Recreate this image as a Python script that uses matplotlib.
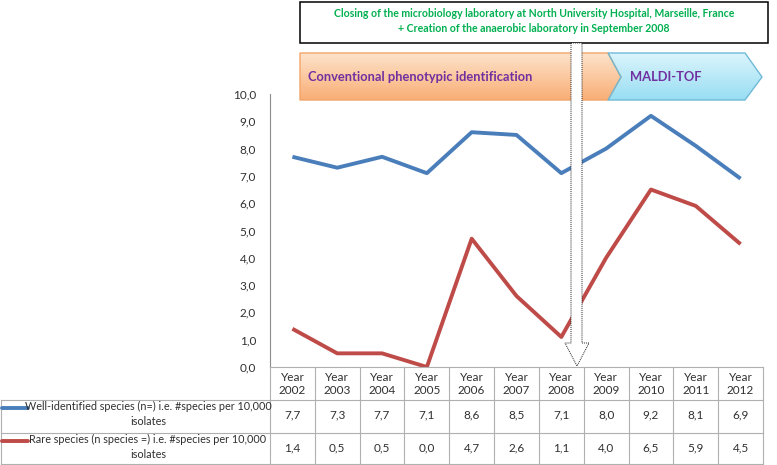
import numpy as np
import matplotlib
matplotlib.use("Agg")
import matplotlib.pyplot as plt
from matplotlib.patches import Polygon, Rectangle
from matplotlib.colors import LinearSegmentedColormap
from matplotlib.ticker import FuncFormatter
from matplotlib.transforms import blended_transform_factory

plt.rcParams['font.family'] = ['Lato', 'DejaVu Sans']

# Data
years = ["2002", "2003", "2004", "2005", "2006", "2007", "2008", "2009", "2010", "2011", "2012"]
well_identified = [7.7, 7.3, 7.7, 7.1, 8.6, 8.5, 7.1, 8.0, 9.2, 8.1, 6.9]
rare = [1.4, 0.5, 0.5, 0.0, 4.7, 2.6, 1.1, 4.0, 6.5, 5.9, 4.5]
series_labels = ["Well-identified species (n=) i.e. #species per 10,000\nisolates",
                 "Rare species (n species =) i.e. #species per 10,000\nisolates"]
box_text = ("Closing of the microbiology laboratory at North University Hospital, Marseille, France\n"
            "+ Creation of the anaerobic laboratory in September 2008")
phase_labels = ["Conventional phenotypic identification", "MALDI-TOF"]

blue = "#4a7ebb"
red = "#be4b48"
grid_c = "#b0b0b0"
txt_c = "#303030"

fig = plt.figure(figsize=(7.77, 4.65), dpi=100)
W, H = 777, 465

# main chart area
ax = fig.add_axes([270 / W, 98 / H, 493 / W, 273 / H])
x = np.arange(len(years))
ax.plot(x, well_identified, color=blue, lw=2.8, solid_capstyle='butt')
ax.plot(x, rare, color=red, lw=2.8, solid_capstyle='butt')
ax.set_xlim(-0.5, len(years) - 0.5)
ax.set_ylim(0, 10)
ax.set_yticks(np.arange(0, 11, 1))
ax.yaxis.set_major_formatter(FuncFormatter(lambda v, p: f"{v:.1f}".replace(".", ",")))
ax.tick_params(axis='y', length=0, pad=10, labelsize=8.5, labelcolor=txt_c)
ax.set_xticks([])
for s in ["top", "right"]:
    ax.spines[s].set_visible(False)
ax.spines["left"].set_color("#8c8c8c")
ax.spines["bottom"].set_color(grid_c)

# overlay in pixel coordinates for table and annotations
ov = fig.add_axes([0, 0, 1, 1])
ov.set_axis_off()
tr = blended_transform_factory(ax.transData, ov.transData)

# data table
for i in range(len(years) + 1):
    ov.plot([i - 0.5, i - 0.5], [367, 464], color=grid_c, lw=0.8, transform=tr)
for yy in [400, 433, 464]:
    ov.plot([1, 763], [yy, yy], color=grid_c, lw=0.8)
ov.plot([1, 1], [400, 464], color=grid_c, lw=0.8)
for i, yr in enumerate(years):
    ov.text(i, 384, "Year\n" + yr, transform=tr, ha='center', va='center',
            fontsize=8.5, color=txt_c, linespacing=1.25)
    ov.text(i, 415, f"{well_identified[i]:.1f}".replace(".", ","), transform=tr,
            ha='center', va='center', fontsize=8.5, color=txt_c)
    ov.text(i, 448, f"{rare[i]:.1f}".replace(".", ","), transform=tr,
            ha='center', va='center', fontsize=8.5, color=txt_c)
for row_y, lab, col in [(414, series_labels[0], blue), (447, series_labels[1], red)]:
    ov.plot([2, 28], [row_y - 6, row_y - 6], color=col, lw=2.8, solid_capstyle='round')
    ov.text(148, row_y, lab, ha='center', va='center', fontsize=7.8, color=txt_c,
            linespacing=1.4)


def grad_shape(pts, c_top, c_bot, edge):
    poly = Polygon(pts, closed=True, facecolor='none', edgecolor=edge, lw=1, zorder=3)
    ov.add_patch(poly)
    xs = [p[0] for p in pts]
    ys = [p[1] for p in pts]
    cmap = LinearSegmentedColormap.from_list('g', [c_top, c_bot])
    im = ov.imshow(np.linspace(0, 1, 100).reshape(-1, 1), cmap=cmap, aspect='auto',
                   extent=(min(xs), max(xs), max(ys), min(ys)), zorder=2)
    im.set_clip_path(poly)


# phase arrows
grad_shape([(300, 53), (608, 53), (621, 77), (608, 100), (300, 100)],
           "#fde4cc", "#f9ae76", "#f3a468")
grad_shape([(608, 53), (745, 53), (762, 77), (745, 100), (608, 100), (621, 77)],
           "#dcf5fc", "#98def3", "#6fb9d6")
ov.text(308, 77, phase_labels[0], ha='left', va='center', fontsize=9.3,
        fontweight='bold', color="#7030a0", zorder=4)
ov.text(630, 77, phase_labels[1], ha='left', va='center', fontsize=9.3,
        fontweight='bold', color="#7030a0", zorder=4)

# event box
ov.add_patch(Rectangle((300, 2), 468, 41, facecolor='white', edgecolor='black', lw=1.1, zorder=3))
ov.text(534, 21, box_text, ha='center', va='center', fontsize=7.6, fontweight='bold',
        color="#00b050", linespacing=1.35, zorder=4)

# dotted arrow to 2008
ov.add_patch(Polygon([(571, 43), (582, 43), (582, 343), (589, 343), (577, 366),
                      (565, 343), (571, 343)], closed=True, facecolor='white',
                     edgecolor='#222222', lw=0.7, linestyle=(0, (1, 1)), zorder=5))

ov.set_xlim(0, W)
ov.set_ylim(H, 0)

fig.savefig("out.png", dpi=100)
